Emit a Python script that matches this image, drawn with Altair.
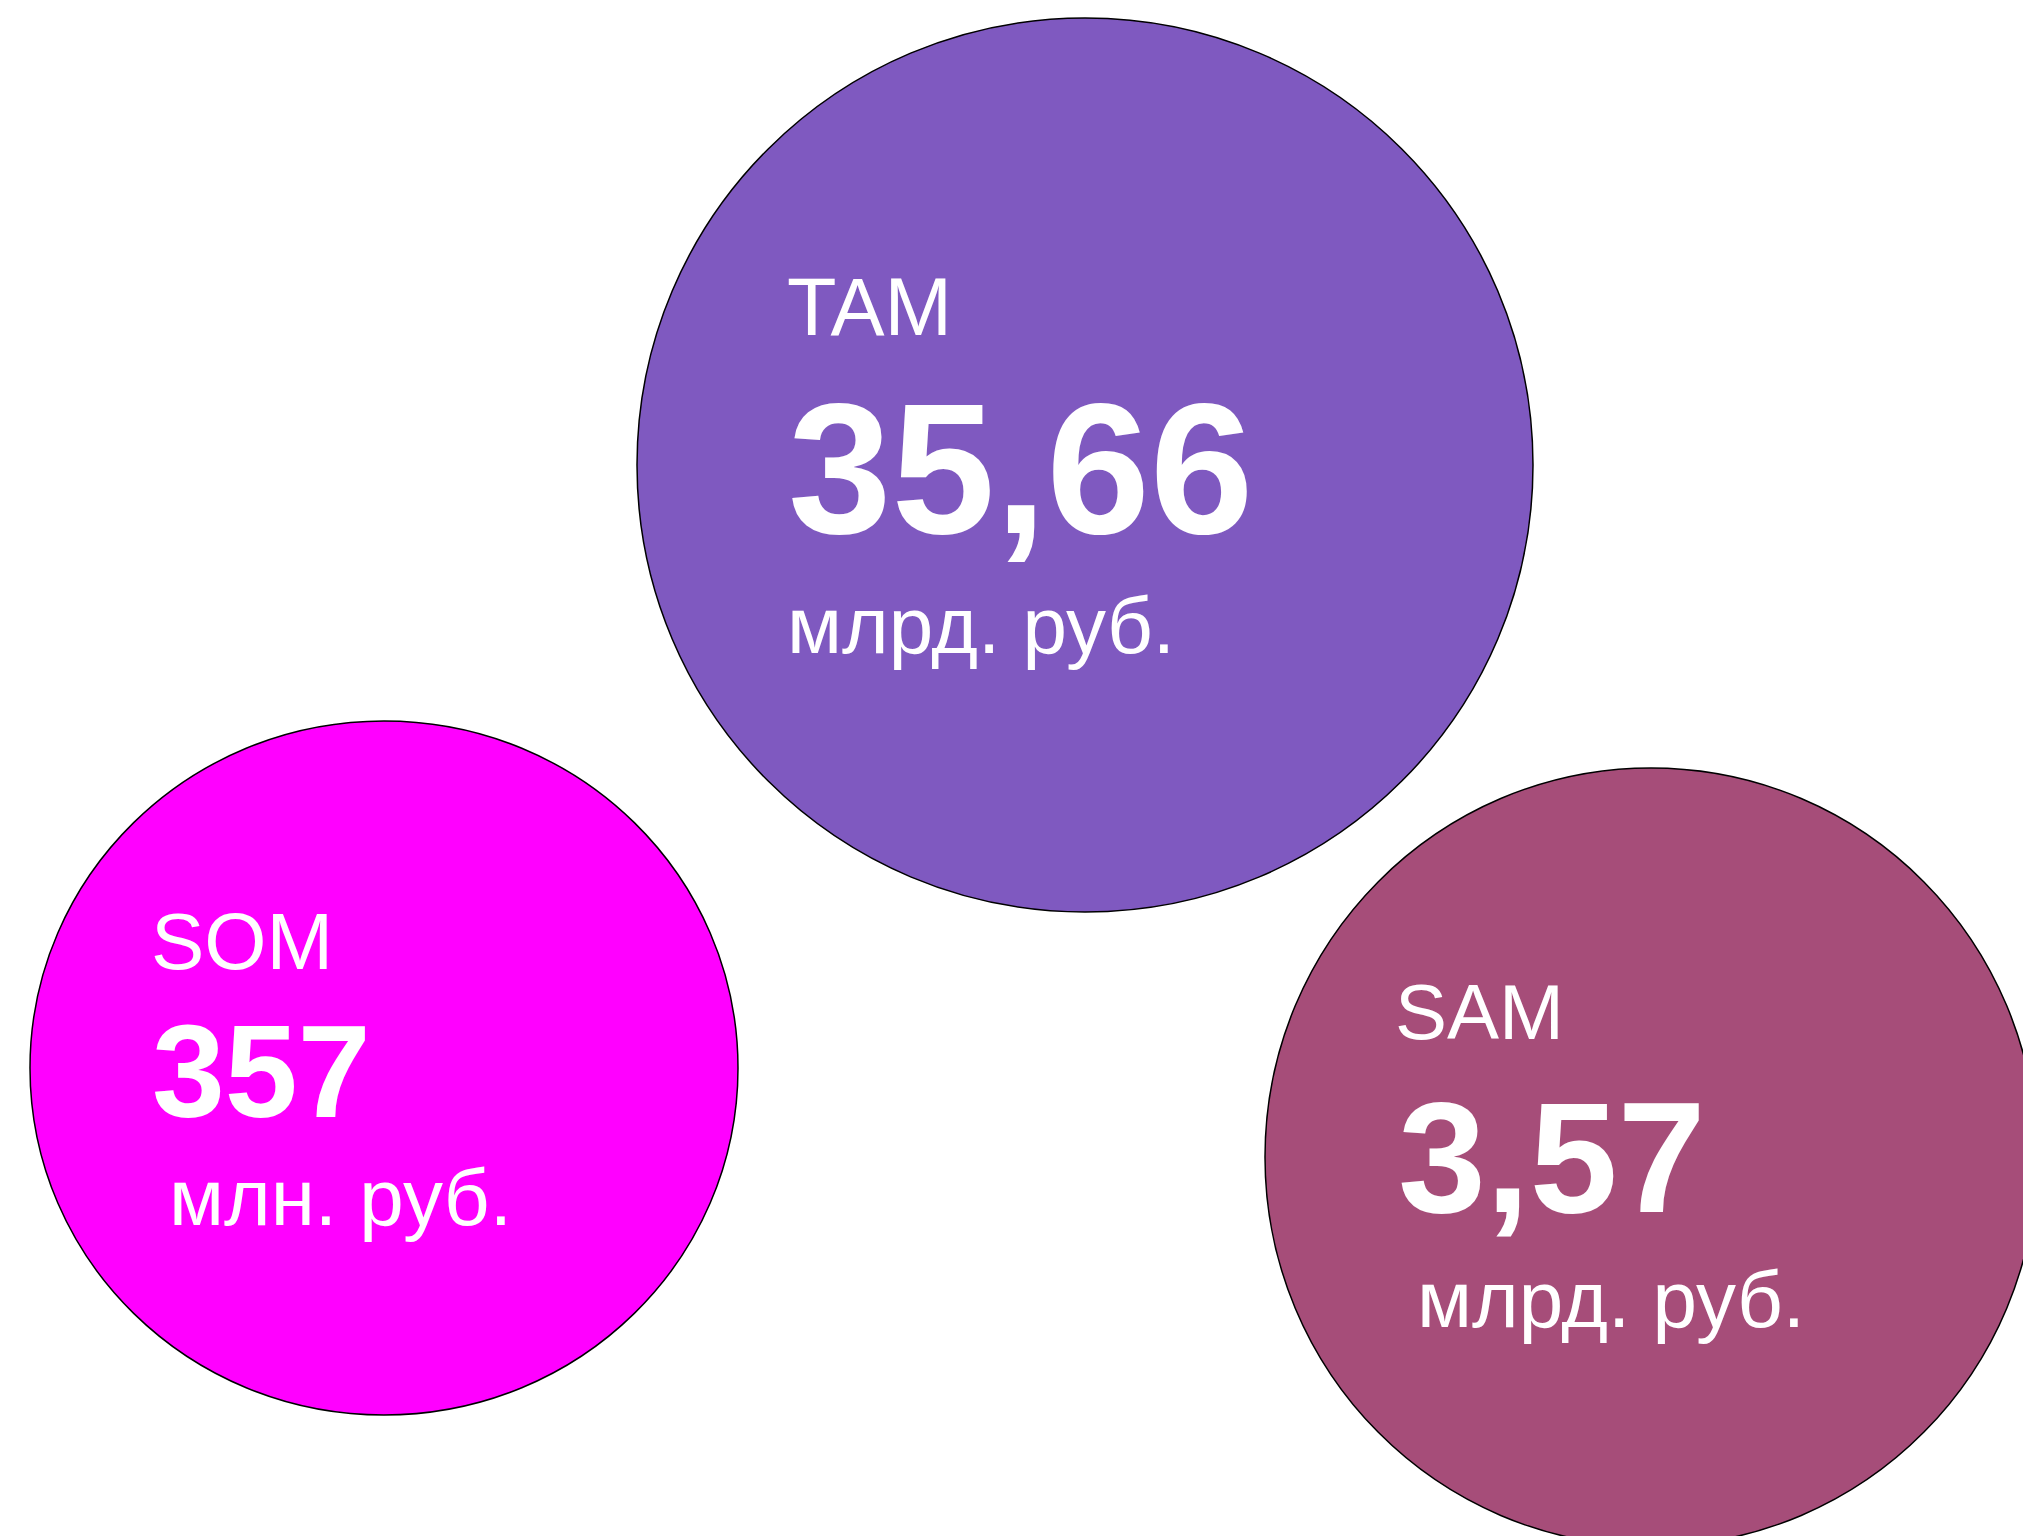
import altair as alt
import pandas as pd

# ---- data ----
segments = ["TAM", "SAM", "SOM"]
values = [35.66, 3.57, 357]
units = ["млрд. руб.", "млрд. руб.", "млн. руб."]

# ---- styles / layout (pixel space of a 2023x1536 canvas) ----
colors = ["#7F59C0", "#A64D79", "#FF00FF"]
circle_cx = [1085, 1651, 384]
circle_cy = [465, 1157, 1068]
circle_rx = [448, 386, 354]
circle_ry = [447, 389, 347]

label_x = [787, 1395, 151]
label_y = [335, 1039, 969]
label_fs = [81, 78, 80]

value_x = [788, 1398, 152]
value_y = [533, 1212, 1117]
value_fs = [186, 158, 131]

unit_x = [787, 1417, 169]
unit_y = [653, 1327, 1225]
unit_fs = [80, 80, 80]

W, H = 2023, 1536
K = 0.5523


def ellipse_path(q):
    a = K
    b = round(K * q, 4)
    q = round(q, 4)
    return (f"M 1 0 C 1 {b} {a} {q} 0 {q} C {-a} {q} -1 {b} -1 0 "
            f"C -1 {-b} {-a} {-q} 0 {-q} C {a} {-q} 1 {-b} 1 0 Z")


def fmt(v):
    return f"{v:g}".replace(".", ",")


df = pd.DataFrame({
    "segment": segments,
    "value_text": [fmt(v) for v in values],
    "unit": units,
    "color": colors,
    "cx": circle_cx,
    "cy": circle_cy,
    "shape": [ellipse_path(ry / rx) for rx, ry in zip(circle_rx, circle_ry)],
    "size": [(2 * rx) ** 2 for rx in circle_rx],
    "lx": label_x, "ly": label_y, "lfs": label_fs,
    "vx": value_x, "vy": value_y, "vfs": value_fs,
    "ux": unit_x, "uy": unit_y, "ufs": unit_fs,
})

xs = alt.Scale(domain=[0, W], nice=False, zero=False)
ys = alt.Scale(domain=[H, 0], nice=False, zero=False)

base = alt.Chart(df)

circles = base.mark_point(
    filled=True, stroke="black", strokeWidth=1.5, opacity=1, strokeOpacity=1
).encode(
    x=alt.X("cx:Q", scale=xs, axis=None),
    y=alt.Y("cy:Q", scale=ys, axis=None),
    shape=alt.Shape("shape:N", scale=None, legend=None),
    size=alt.Size("size:Q", scale=None, legend=None),
    fill=alt.Fill("color:N", scale=None, legend=None),
)


def text_layer(xf, yf, sf, tf, weight):
    return base.mark_text(
        align="left", baseline="alphabetic", font="Liberation Sans",
        fontWeight=weight, color="white"
    ).encode(
        x=alt.X(f"{xf}:Q", scale=xs, axis=None),
        y=alt.Y(f"{yf}:Q", scale=ys, axis=None),
        size=alt.Size(f"{sf}:Q", scale=None, legend=None),
        text=alt.Text(f"{tf}:N"),
    )


labels = text_layer("lx", "ly", "lfs", "segment", "normal")
nums = text_layer("vx", "vy", "vfs", "value_text", "bold")
unit_txt = text_layer("ux", "uy", "ufs", "unit", "normal")

chart = alt.layer(circles, labels, nums, unit_txt).properties(
    width=W, height=H,
    autosize=alt.AutoSizeParams(type="none"),
    padding=0,
    background="white",
).configure_view(stroke=None)

chart.save("out.html", embed_options={"renderer": "svg", "actions": False})
